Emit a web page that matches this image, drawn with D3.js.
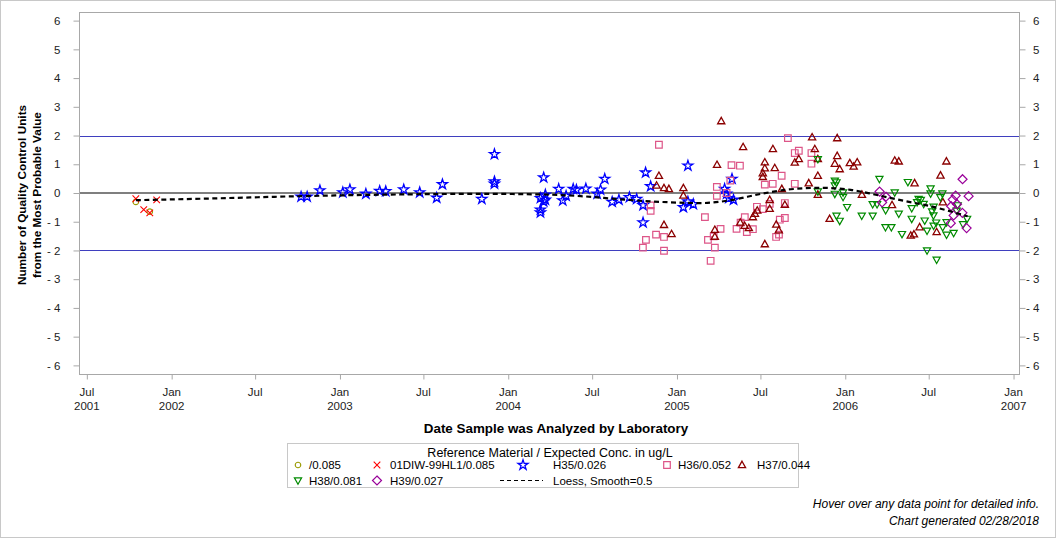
<!DOCTYPE html>
<html><head><meta charset="utf-8">
<script src="https://cdn.jsdelivr.net/npm/d3@7"></script>
<style>
body{margin:0;background:#fff;}
svg{display:block;font-family:'Liberation Sans',Arial,sans-serif;}
</style></head>
<body><svg id="c" width="1056" height="538"></svg>
<script>
// ---- data (decimal year, value) ----
const ser085 = [[2001.787,-0.31],[2001.870,-0.65]];
const serDIW = [[2001.787,-0.20],[2001.834,-0.58],[2001.870,-0.69],[2001.911,-0.24]];
const serH35 = [[2002.769,-0.13],[2002.805,-0.13],[2002.881,0.09],[2003.017,0.02],[2003.059,0.12],[2003.154,-0.03],
 [2003.236,0.07],[2003.272,0.06],[2003.379,0.12],[2003.474,0.02],[2003.575,-0.17],[2003.609,0.30],[2003.843,-0.21],
 [2003.918,1.35],[2003.918,0.40],[2003.918,0.32],[2004.191,-0.18],[2004.191,-0.58],[2004.191,-0.68],[2004.210,0.54],
 [2004.210,-0.30],[2004.220,-0.06],[2004.220,-0.24],[2004.299,0.14],[2004.323,-0.26],[2004.343,-0.10],[2004.385,0.14],
 [2004.404,0.11],[2004.460,0.15],[2004.527,-0.03],[2004.547,0.11],[2004.572,0.49],[2004.616,-0.31],[2004.656,-0.24],
 [2004.718,-0.15],[2004.761,-0.21],[2004.799,-0.43],[2004.799,-1.03],[2004.814,0.71],[2004.844,0.23],[2005.038,-0.50],
 [2005.065,0.95],[2005.065,-0.30],[2005.097,-0.39],[2005.283,0.14],[2005.295,-0.03],[2005.308,-0.18],[2005.327,0.49],
 [2005.336,-0.24]];
const serH36 = [[2004.798,-1.90],[2004.816,-1.63],[2004.844,-0.43],[2004.844,-0.62],[2004.876,-1.45],[2004.893,1.68],
 [2004.923,-1.53],[2004.923,-2.01],[2005.166,-0.84],[2005.184,-1.63],[2005.200,-2.36],[2005.218,-1.51],[2005.225,-1.90],
 [2005.237,0.21],[2005.237,-0.10],[2005.259,-1.25],[2005.295,0.00],[2005.317,0.43],[2005.324,0.97],[2005.374,0.95],
 [2005.354,-1.25],[2005.378,-1.03],[2005.403,-0.84],[2005.415,-1.36],[2005.451,-1.26],[2005.475,-0.48],[2005.510,-0.56],
 [2005.522,0.29],[2005.551,-0.38],[2005.569,0.32],[2005.589,-1.53],[2005.606,-1.45],[2005.611,-0.93],[2005.622,0.60],
 [2005.641,-0.35],[2005.641,-0.87],[2005.659,1.91],[2005.700,1.39],[2005.700,0.32],[2005.724,1.47],[2005.799,1.39],
 [2005.799,1.02]];
const serH37 = [[2004.879,0.26],[2004.893,0.60],[2004.923,0.17],[2004.923,-1.11],[2004.952,0.14],[2004.968,-1.43],
 [2005.038,0.17],[2005.038,-0.09],[2005.225,-1.28],[2005.225,-1.52],[2005.238,0.98],[2005.263,2.50],[2005.376,-1.03],
 [2005.393,1.60],[2005.402,-1.14],[2005.427,-1.22],[2005.477,-0.61],[2005.463,-0.72],[2005.451,-0.84],[2005.510,0.69],
 [2005.510,0.56],[2005.522,1.07],[2005.522,0.86],[2005.522,-1.78],[2005.551,-0.24],[2005.551,-0.55],[2005.570,1.53],
 [2005.581,0.87],[2005.590,-1.10],[2005.605,-1.30],[2005.623,0.14],[2005.641,-0.41],[2005.700,1.06],[2005.724,1.18],
 [2005.783,0.34],[2005.803,1.94],[2005.819,1.53],[2005.837,1.18],[2005.837,0.60],[2005.837,-0.06],[2005.907,-0.90],
 [2005.938,1.02],[2005.952,1.91],[2005.952,1.29],[2005.967,0.83],[2006.027,1.04],[2006.050,0.92],[2006.071,1.07],
 [2006.099,-0.06],[2006.278,-0.42],[2006.294,1.13],[2006.318,1.10],[2006.389,-1.48],[2006.408,-1.44],[2006.412,0.34],
 [2006.442,-1.19],[2006.543,-1.36],[2006.566,0.61],[2006.580,-0.32],[2006.601,1.10]];
const serH38 = [[2005.837,1.18],[2005.837,0.05],[2005.938,0.43],[2005.948,0.37],[2005.938,0.26],[2005.938,-0.03],
 [2005.987,0.02],[2005.987,-0.14],[2006.011,-0.49],[2005.948,-0.79],[2005.967,-0.97],[2006.098,-0.79],[2006.163,-0.79],
 [2006.163,-0.39],[2006.189,-0.39],[2006.203,0.49],[2006.240,-0.60],[2006.239,-1.19],[2006.274,-1.19],[2006.294,0.02],
 [2006.318,-0.72],[2006.337,-1.43],[2006.372,0.38],[2006.395,-0.53],[2006.395,-0.90],[2006.436,-0.21],[2006.449,-0.24],
 [2006.427,-0.32],[2006.466,-0.38],[2006.472,-0.96],[2006.486,-1.31],[2006.486,-2.00],[2006.507,0.16],[2006.507,-0.02],
 [2006.525,-0.48],[2006.516,-0.64],[2006.524,-0.78],[2006.540,-1.03],[2006.543,-2.32],[2006.525,-1.14],[2006.565,-0.15],
 [2006.577,-0.02],[2006.579,-1.19],[2006.602,-1.02],[2006.602,-1.45],[2006.644,-1.39],[2006.662,-0.62],[2006.668,-0.43],
 [2006.700,-1.09],[2006.724,-0.90]];
const serH39 = [[2006.204,0.05],[2006.242,-0.13],[2006.219,-0.33],[2006.629,-0.46],[2006.627,-1.05],[2006.639,-0.23],
 [2006.644,-0.78],[2006.656,-0.09],[2006.664,-0.39],[2006.697,0.48],[2006.696,-0.69],[2006.721,-1.22],[2006.733,-0.11]];
const loess = [[2001.787,-0.25],[2002.173,-0.20],[2002.767,-0.11],[2003.361,-0.05],[2003.836,-0.03],[2004.192,-0.05],
 [2004.430,-0.11],[2004.667,-0.22],[2004.905,-0.31],[2005.142,-0.35],[2005.320,-0.25],[2005.498,-0.03],[2005.676,0.13],
 [2005.854,0.18],[2006.032,0.11],[2006.181,-0.06],[2006.329,-0.25],[2006.507,-0.46],[2006.626,-0.64],[2006.727,-0.81]];
const yTicks = [-6,-5,-4,-3,-2,-1,0,1,2,3,4,5,6];
const refLines = [2,-2];
const legendTitle = "Reference Material / Expected Conc. in ug/L";
const seriesNames = ["/0.085","01DIW-99HL1/0.085","H35/0.026","H36/0.052","H37/0.044","H38/0.081","H39/0.027","Loess, Smooth=0.5"];
const xLabel = "Date Sample was Analyzed by Laboratory";
const yLabel = ["Number of Quality Control Units","from the Most Probable Value"];
const footer = ["Hover over any data point for detailed info.","Chart generated 02/28/2018"];

function dec2date(v){
  const y = Math.floor(v), a = new Date(y,0,1), b = new Date(y+1,0,1);
  return new Date(+a + (v-y)*(b-a));
}

const svg = d3.select("#c");
const L=79, R=1020, T=12, B=374;
const x = d3.scaleTime().domain([new Date(2001,5,14), new Date(2007,0,15)]).range([L,R]);
const y = d3.scaleLinear().domain([-6.3,6.3]).range([B,T]);

svg.append("rect").attr("x",0.5).attr("y",0.5).attr("width",1055).attr("height",537)
  .attr("fill","#fff").attr("stroke","#c8c8c8");

// reference lines
svg.append("line").attr("x1",L).attr("x2",R).attr("y1",y(0)).attr("y2",y(0)).attr("stroke","#000").attr("stroke-width",1.2);
refLines.forEach(v=>svg.append("line").attr("x1",L).attr("x2",R).attr("y1",Math.round(y(v))+0.5).attr("y2",Math.round(y(v))+0.5)
  .attr("stroke","#3f3fbf").attr("stroke-width",1));

// frame
svg.append("rect").attr("x",L+0.5).attr("y",T+0.5).attr("width",R-L-1).attr("height",B-T)
  .attr("fill","none").attr("stroke","#a8a8a8");

// axes
const xTicks = d3.timeMonth.every(6).range(new Date(2001,6,1), new Date(2007,0,2));
const gx = svg.append("g").attr("transform",`translate(0,${B+0.5})`)
  .call(d3.axisBottom(x).tickValues(xTicks).tickSize(5).tickFormat(""));
gx.select(".domain").remove();
gx.selectAll(".tick line").attr("stroke","#a8a8a8");
const fmtM = d3.timeFormat("%b"), fmtY = d3.timeFormat("%Y");
xTicks.forEach((d,i)=>{
  svg.append("text").attr("x",x(d)).attr("y",396).attr("text-anchor","middle")
    .attr("font-size",11.5).attr("fill","#222").text(fmtM(d));
  if(d.getMonth()===0 || i===0)
    svg.append("text").attr("x",x(d)).attr("y",410).attr("text-anchor","middle")
      .attr("font-size",11.5).attr("fill","#222").text(fmtY(d));
});
const gy = svg.append("g").attr("transform",`translate(${L+0.5},0)`)
  .call(d3.axisLeft(y).tickValues(yTicks).tickSize(6).tickPadding(13).tickFormat(d=>d<0?"- "+(-d):d));
gy.select(".domain").remove();
gy.selectAll(".tick line").attr("stroke","#a8a8a8");
gy.selectAll("text").attr("font-size",11.5).attr("fill","#222").attr("font-family","'Liberation Sans',Arial,sans-serif");
const gy2 = svg.append("g").attr("transform",`translate(${R-0.5},0)`)
  .call(d3.axisRight(y).tickValues(yTicks).tickSize(6).tickPadding(4).tickFormat(d=>d<0?"- "+(-d):d));
gy2.select(".domain").remove();
gy2.selectAll(".tick line").attr("stroke","#a8a8a8");
gy2.selectAll("text").attr("font-size",11.5).attr("fill","#222").attr("font-family","'Liberation Sans',Arial,sans-serif")
  .attr("text-anchor","end").attr("x",20);

// axis titles
svg.append("text").attr("x",556).attr("y",433).attr("text-anchor","middle").attr("font-weight","bold")
  .attr("font-size",13.4).text(xLabel);
yLabel.forEach((s,i)=>svg.append("text").attr("transform",`translate(${26+i*15},195) rotate(-90)`)
  .attr("text-anchor","middle").attr("font-weight","bold").attr("font-size",11.8).text(s));

// symbol generators
const sym = {
  circle: ()=>d3.symbol(d3.symbolCircle,24)(),
  x: ()=>"M-3.3,-3.3L3.3,3.3M-3.3,3.3L3.3,-3.3",
  star: ()=>d3.symbol(d3.symbolStar,31)(),
  square: ()=>"M-3.3,-3.3H3.3V3.3H-3.3Z",
  tri: ()=>"M0,-3.8L3.6,2.6H-3.6Z",
  itri: ()=>"M0,3.8L3.6,-2.6H-3.6Z",
  diamond: ()=>"M0,-4.5L4.5,0L0,4.5L-4.5,0Z"
};
const styles = [
  {data:ser085, s:"circle", c:"#9a9a00", w:1.1},
  {data:serDIW, s:"x", c:"#ff0000", w:1.1},
  {data:serH35, s:"star", c:"#0000ff", w:1.3},
  {data:serH36, s:"square", c:"#dd5588", w:1.2},
  {data:serH37, s:"tri", c:"#8b0000", w:1.3},
  {data:serH38, s:"itri", c:"#008a00", w:1.2},
  {data:serH39, s:"diamond", c:"#990099", w:1.2}
];
styles.forEach(st=>{
  svg.append("g").selectAll("path").data(st.data).join("path")
    .attr("d",sym[st.s]()).attr("transform",d=>`translate(${x(dec2date(d[0]))},${y(d[1])})`)
    .attr("fill","none").attr("stroke",st.c).attr("stroke-width",st.w);
});

// loess
svg.append("path").datum(loess).attr("d",d3.line().x(d=>x(dec2date(d[0]))).y(d=>y(d[1])).curve(d3.curveMonotoneX))
  .attr("fill","none").attr("stroke","#000").attr("stroke-width",2.2).attr("stroke-dasharray","5,3.5");

// legend
svg.append("rect").attr("x",287.5).attr("y",443.5).attr("width",511).attr("height",44)
  .attr("fill","none").attr("stroke","#c8c8c8");
svg.append("text").attr("x",550).attr("y",456.5).attr("text-anchor","middle").attr("font-size",12.5).text(legendTitle);
const legPos = [[298,465,"circle"],[377,465,"x"],[523,465,"star"],[667,465,"square"],[742,465,"tri"],
  [298,480.5,"itri"],[377,480.5,"diamond"],[521,480.5,"line"]];
const labPos = [309,390,553,678,757,309,390,553];
legPos.forEach((p,i)=>{
  if(p[2]==="line"){
    svg.append("line").attr("x1",500).attr("x2",543).attr("y1",p[1]).attr("y2",p[1])
      .attr("stroke","#000").attr("stroke-width",1.2).attr("stroke-dasharray","4,3");
  } else {
    const st = styles.find(s=>s.s===p[2]);
    svg.append("path").attr("d",sym[p[2]]()).attr("transform",`translate(${p[0]},${p[1]})`)
      .attr("fill","none").attr("stroke",st.c).attr("stroke-width",st.w);
  }
  svg.append("text").attr("x",labPos[i]).attr("y",p[1]+4).attr("font-size",11.5).text(seriesNames[i]);
});

// footer
footer.forEach((s,i)=>svg.append("text").attr("x",1039).attr("y",508+i*16.5).attr("text-anchor","end")
  .attr("font-style","italic").attr("font-size",12).text(s));
</script></body></html>
